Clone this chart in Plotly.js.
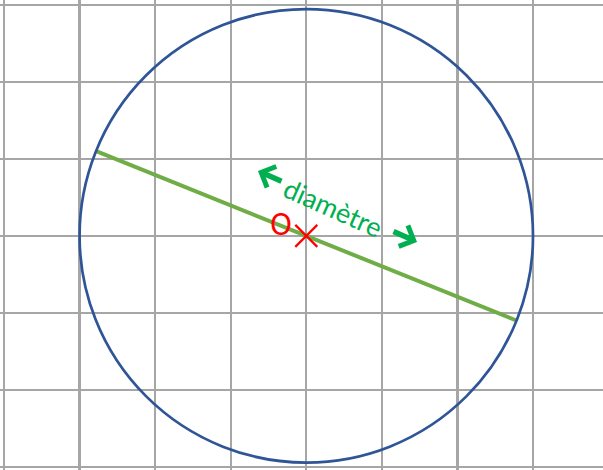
<!DOCTYPE html>
<html>
<head>
<meta charset="utf-8">
<script src="https://cdn.plot.ly/plotly-3.0.1.min.js"></script>
<style>html,body{margin:0;padding:0;background:#fff;}#chart{width:603px;height:470px;}</style>
</head>
<body>
<div id="chart"></div>
<script>
// Geometry data (grid units)
const circleCenter = [4, 3];
const circleRadius = 3;
const diameterX = [1.22, 6.78];
const diameterY = [4.10, 1.90];
const centerLabel = "O";
const centerLabelPos = [3.665, 3.154];
const diameterLabel = "diamètre";
const diameterLabelPos = [4.36, 3.37];
const arrowTips = [[3.361, 3.843], [5.465, 2.921]];

const W = 603, H = 470;
const xRange = [-0.0529, 7.926];
const yRange = [-0.0429, 6.065];
const xScale = W / (xRange[1] - xRange[0]);
const yScale = H / (yRange[1] - yRange[0]);
const ry = circleRadius * xScale / yScale;

const traces = [
  {
    x: diameterX, y: diameterY, mode: 'lines', type: 'scatter',
    line: {color: '#70ad47', width: 4}, hoverinfo: 'skip', showlegend: false
  },
  {
    x: [circleCenter[0]], y: [circleCenter[1]], mode: 'markers', type: 'scatter',
    marker: {symbol: 'x-thin', size: 22, line: {color: '#ff0000', width: 2.2}},
    hoverinfo: 'skip', showlegend: false
  }
];

const axisCommon = {
  showgrid: true, gridcolor: '#a6a6a6', gridwidth: 2.2, dtick: 1, tick0: 0,
  zeroline: false, showticklabels: false, ticks: '', showline: false, fixedrange: true
};

const layout = {
  width: W, height: H,
  margin: {l: 0, r: 0, t: 0, b: 0, pad: 0},
  paper_bgcolor: '#ffffff', plot_bgcolor: '#ffffff',
  xaxis: Object.assign({range: xRange}, axisCommon),
  yaxis: Object.assign({range: yRange}, axisCommon),
  shapes: [{
    type: 'circle', xref: 'x', yref: 'y',
    x0: circleCenter[0] - circleRadius, x1: circleCenter[0] + circleRadius,
    y0: circleCenter[1] - ry, y1: circleCenter[1] + ry,
    line: {color: '#2f5597', width: 2.7}, layer: 'above'
  }],
  annotations: [
    {
      x: diameterLabelPos[0], y: diameterLabelPos[1], text: diameterLabel,
      showarrow: false, textangle: 24,
      font: {family: 'Lato, "Open Sans", sans-serif', size: 27, color: '#00b050'}
    },
    {
      x: centerLabelPos[0], y: centerLabelPos[1], text: centerLabel,
      showarrow: false,
      font: {family: '"Liberation Sans Narrow", "DejaVu Sans Condensed", "Noto Sans", sans-serif', size: 31, color: '#ff0000'}
    },
    {
      x: arrowTips[0][0], y: arrowTips[0][1], text: '', showarrow: true,
      ax: 25, ay: 11, arrowhead: 4, arrowsize: 0.8, arrowwidth: 5.5, arrowcolor: '#00b050', standoff: 0
    },
    {
      x: arrowTips[1][0], y: arrowTips[1][1], text: '', showarrow: true,
      ax: -25, ay: -11, arrowhead: 4, arrowsize: 0.8, arrowwidth: 5.5, arrowcolor: '#00b050', standoff: 0
    }
  ]
};

Plotly.newPlot('chart', traces, layout, {displayModeBar: false, staticPlot: true});
</script>
</body>
</html>
